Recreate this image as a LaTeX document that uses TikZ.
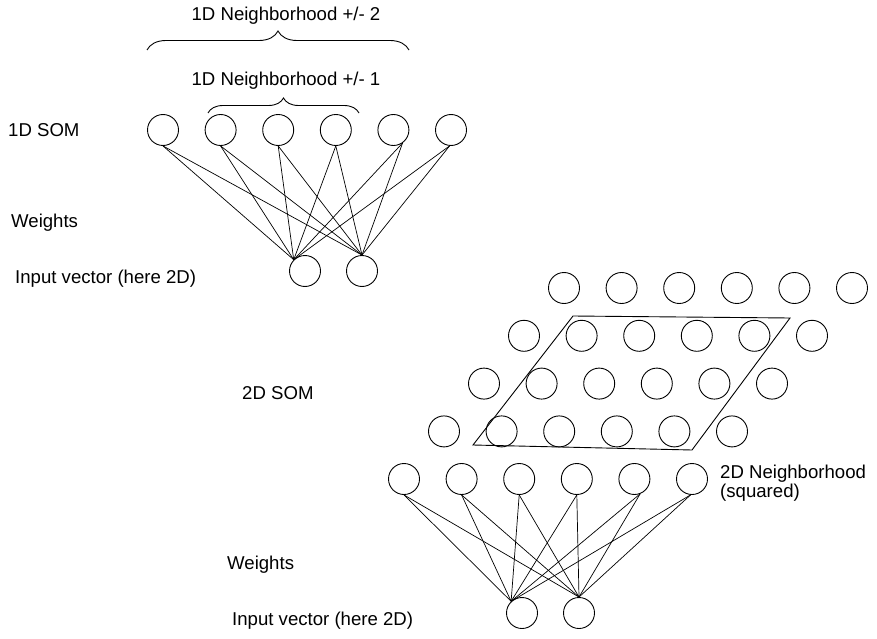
\documentclass[tikz,border=0pt]{standalone}
\usepackage{fontspec}
\setmainfont{Liberation Sans}
\usetikzlibrary{decorations.pathreplacing}
\begin{document}
\begin{tikzpicture}[x=1pt,y=-1pt,
  neuron/.style={circle,draw,line width=0.9pt,minimum size=31pt,inner sep=0pt},
  lbl/.style={inner sep=0pt,font=\fontsize{18.6}{21}\selectfont},
  wire/.style={line width=0.7pt},
  bracestyle/.style={decorate,decoration={brace,amplitude=#1},line width=0.9pt}]
\useasboundingbox[fill=white] (0,0) rectangle (877,639);

% ---------- 1D SOM ----------
\foreach \i in {1,...,6} {
  \node[neuron] (t\i) at ({163+57.6*(\i-1)},130) {};
}
\node[neuron] (i1) at (305,271) {};
\node[neuron] (i2) at (362,271) {};
\foreach \i/\a in {1/-90,2/-90,3/-90,4/-90,5/-55,6/-95} {
  \draw[wire] (t\i.\a) -- (i1.135);
  \draw[wire] (t\i.\a) -- (i2.north);
}
\coordinate (bA) at (147,50);
\coordinate (bB) at (409,50);
\coordinate (bC) at (208,113);
\coordinate (bD) at (359,113);
\draw[bracestyle=19] (bA) -- (bB);
\draw[bracestyle=15] (bC) -- (bD);
\node[lbl,anchor=base] (n2) at (286,21) {1D Neighborhood +/- 2};
\node[lbl,anchor=base] (n1) at (286,86) {1D Neighborhood +/- 1};
\node[lbl,anchor=base west] (som1) at (8,137) {1D SOM};
\node[lbl,anchor=base west] (w1) at (11,227) {Weights};
\node[lbl,anchor=base west] (in1) at (15,283) {Input vector (here 2D)};

% ---------- 2D SOM ----------
\foreach \r in {1,...,4} {
  \foreach \c in {1,...,6} {
    \node[neuron] (g\r\c) at ({564-40*(\r-1)+57.6*(\c-1)},{288+47.8*(\r-1)}) {};
  }
}
\foreach \c in {1,...,6} {
  \node[neuron] (b\c) at ({404+57.6*(\c-1)},479) {};
}
\node[neuron] (j1) at (522,613) {};
\node[neuron] (j2) at (579,613) {};
\foreach \c/\a in {1/-90,2/-90,3/-90,4/-90,5/-69,6/-95} {
  \draw[wire] (b\c.\a) -- (j1.133);
  \draw[wire] (b\c.\a) -- (j2.north);
}
\draw[line width=0.9pt] (573,316) -- (790,318) -- (692,450) -- (473,445) -- cycle;

\node[lbl,anchor=base west] (som2) at (242,399) {2D SOM};
\node[lbl,anchor=base west] (nb2) at (720,478) {2D Neighborhood};
\node[lbl,anchor=base west] (sq) at (720,497) {(squared)};
\node[lbl,anchor=base west] (w2) at (227,569) {Weights};
\node[lbl,anchor=base west] (in2) at (232,625) {Input vector (here 2D)};
\end{tikzpicture}
\end{document}
